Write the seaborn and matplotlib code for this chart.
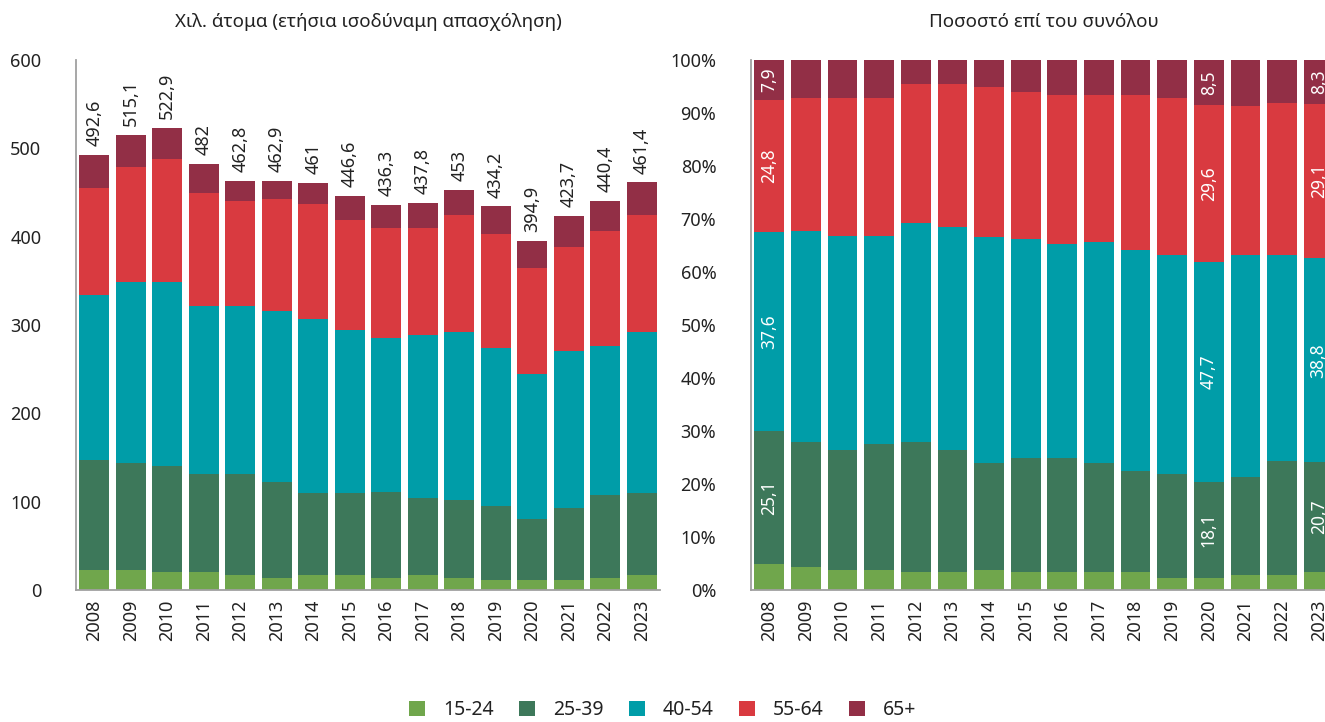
import numpy as np
import seaborn as sns
import matplotlib
matplotlib.use("Agg")
import matplotlib.pyplot as plt
from matplotlib.patches import Patch
from matplotlib.ticker import FixedLocator


years = [str(y) for y in range(2008, 2024)]
groups = ["15-24", "25-39", "40-54", "55-64", "65+"]
colors = ["#70a64c", "#3d785a", "#009da8", "#d93a40", "#922f46"]

# left panel: thousands of persons (annual full-time equivalent)
abs_15_24 = [22.6, 22.6, 20.4, 20.4, 17.0, 13.6, 17.0, 17.0, 13.6, 17.0, 13.6, 11.3, 11.3, 11.3, 13.6, 17.0]
abs_25_39 = [124.6, 121.2, 120.0, 110.9, 114.3, 108.7, 92.8, 92.8, 97.3, 87.2, 88.3, 83.8, 69.1, 81.5, 93.9, 92.8]
abs_40_54 = [186.8, 204.9, 208.3, 190.2, 190.2, 193.6, 197.0, 184.5, 174.4, 184.5, 190.2, 178.9, 164.1, 177.8, 168.7, 182.3]
abs_55_64 = [121.1, 130.2, 139.2, 127.9, 118.9, 126.7, 130.2, 124.6, 124.5, 121.1, 132.4, 129.0, 120.0, 117.7, 130.2, 132.4]
abs_65 = [37.5, 36.2, 35.0, 32.6, 22.4, 20.3, 24.0, 27.7, 26.5, 28.0, 28.5, 31.2, 30.4, 35.4, 34.0, 36.9]
totals = [492.6, 515.1, 522.9, 482, 462.8, 462.9, 461, 446.6, 436.3, 437.8, 453, 434.2, 394.9, 423.7, 440.4, 461.4]

# right panel: share of total (%)
pct_15_24 = [4.9, 4.3, 3.8, 3.8, 3.4, 3.4, 3.8, 3.4, 3.4, 3.4, 3.4, 2.3, 2.3, 2.8, 2.8, 3.4]
pct_25_39 = [25.1, 23.6, 22.6, 23.7, 24.5, 23.0, 20.2, 21.5, 21.5, 20.6, 19.1, 19.6, 18.1, 18.5, 21.5, 20.7]
pct_40_54 = [37.6, 39.8, 40.4, 39.3, 41.3, 42.0, 42.6, 41.3, 40.4, 41.7, 41.7, 41.3, 41.5, 41.9, 38.9, 38.5]
pct_55_64 = [24.8, 25.1, 26.0, 26.0, 26.3, 27.1, 28.3, 27.8, 28.1, 27.7, 29.2, 29.6, 29.6, 28.1, 28.7, 29.1]
pct_65 = [7.6, 7.2, 7.2, 7.2, 4.5, 4.5, 5.1, 6.0, 6.6, 6.6, 6.6, 7.2, 8.5, 8.7, 8.1, 8.3]

# values printed inside the bars of the right panel
label_years = ["2008", "2020", "2023"]
lab_25_39 = [25.1, 18.1, 20.7]
lab_40_54 = [37.6, 47.7, 38.8]
lab_55_64 = [24.8, 29.6, 29.1]
lab_65 = [7.9, 8.5, 8.3]

sns.set_style("white")
plt.rcParams["font.family"] = ["Noto Sans", "DejaVu Sans"]
txt = "#222222"
axis_col = "#a0a0a0"


def fmt(v):
    s = ("%.1f" % v).replace(".", ",")
    return s[:-2] if s.endswith(",0") else s


def stacked(ax, series):
    bottom = np.zeros(len(years))
    for vals, col in zip(series, colors):
        sns.barplot(x=years, y=vals, bottom=bottom, color=col, saturation=1,
                    width=0.81, linewidth=0, errorbar=None, ax=ax)
        bottom = bottom + np.array(vals)


def style(ax):
    ax.set_xlabel("")
    ax.set_ylabel("")
    ax.set_xlim(-0.5, 15.5)
    sns.despine(ax=ax)
    for s in ["left", "bottom"]:
        ax.spines[s].set_color(axis_col)
        ax.spines[s].set_linewidth(1.3)
    ax.xaxis.set_minor_locator(FixedLocator(np.arange(-0.5, 16, 1)))
    ax.tick_params(axis="x", which="major", length=0, labelrotation=90, pad=7,
                   labelsize=13, labelcolor=txt)
    ax.tick_params(axis="x", which="minor", length=7, width=1.3, color=axis_col)
    ax.tick_params(axis="y", length=6, width=1.3, color=axis_col, pad=19,
                   labelsize=13, labelcolor=txt)


fig = plt.figure(figsize=(13.25, 7.22), dpi=100)
ax1 = fig.add_axes([76 / 1325, 132 / 722, 584 / 1325, 530 / 722])
ax2 = fig.add_axes([751 / 1325, 132 / 722, 586 / 1325, 530 / 722])

# left panel
stacked(ax1, [abs_15_24, abs_25_39, abs_40_54, abs_55_64, abs_65])
style(ax1)
ax1.set_ylim(0, 600)
ax1.set_yticks(range(0, 601, 100))
for i, t in enumerate(totals):
    ax1.text(i, t + 10, fmt(t), rotation=90, ha="center", va="bottom",
             fontsize=13, fontweight="semibold", color=txt)
ax1.set_title("Χιλ. άτομα (ετήσια ισοδύναμη απασχόληση)", fontsize=13.5, color=txt, pad=24)

# right panel
pct_series = [pct_15_24, pct_25_39, pct_40_54, pct_55_64, pct_65]
stacked(ax2, pct_series)
style(ax2)
ax2.set_ylim(0, 100)
ax2.set_yticks(range(0, 101, 10))
ax2.set_yticklabels([f"{v}%" for v in range(0, 101, 10)])
ax2.set_title("Ποσοστό επί του συνόλου", fontsize=13.5, color=txt, pad=24)

cum = np.cumsum(np.array(pct_series), axis=0)
for k, labs in zip([1, 2, 3, 4], [lab_25_39, lab_40_54, lab_55_64, lab_65]):
    for yr, v in zip(label_years, labs):
        i = years.index(yr)
        mid = cum[k, i] - pct_series[k][i] / 2
        ax2.text(i, mid, fmt(v), rotation=90, ha="center", va="center",
                 fontsize=12.5, color="white")

handles = [Patch(facecolor=c, edgecolor="none") for c in colors]
fig.legend(handles, groups, loc="lower center", bbox_to_anchor=(0.5, -0.022), ncol=5,
           frameon=False, fontsize=14, handlelength=0.85, handleheight=0.85,
           handletextpad=0.9, columnspacing=1.3, labelcolor=txt)

fig.savefig("out.png", dpi=100)
